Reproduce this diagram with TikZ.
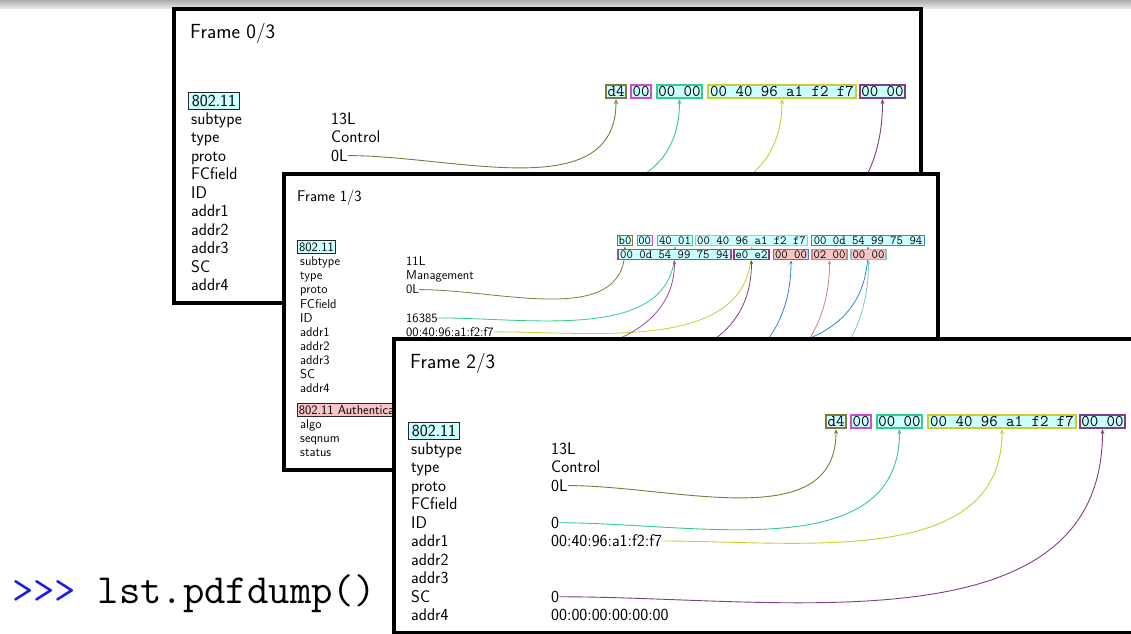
\documentclass[tikz,border=0pt]{standalone}
\usetikzlibrary{arrows.meta}
\definecolor{cOlive}{HTML}{7F7A3A}
\definecolor{cMag}{HTML}{D448D4}
\definecolor{cGreen}{HTML}{33CC88}
\definecolor{cYel}{HTML}{CCCC33}
\definecolor{cPur}{HTML}{7F3F80}
\definecolor{cPurB}{HTML}{9A4AA8}
\definecolor{cBlue}{HTML}{3A82D6}
\definecolor{cSalm}{HTML}{D88080}
\definecolor{cTeal}{HTML}{78CCCC}
\definecolor{cFillC}{HTML}{CCFFFF}
\definecolor{cFillS}{HTML}{F8C4C4}
\definecolor{cPrompt}{HTML}{1A1AF0}
\pgfdeclarelayer{fr0}
\pgfdeclarelayer{fr1a}
\pgfdeclarelayer{fr1b}
\pgfdeclarelayer{fr1c}
\pgfsetlayers{fr0,fr1a,fr1b,fr1c,main}
\tikzset{
  frm/.style={draw=black, line width=3.5pt, fill=white},
  ttlA/.style={anchor=base west, inner sep=0pt, font=\sffamily\fontsize{20.4}{23}\selectfont},
  ttlB/.style={anchor=base west, inner sep=0pt, font=\sffamily\fontsize{15.5}{18}\selectfont},
  txA/.style={anchor=base west, inner sep=0pt, font=\sffamily\fontsize{16.9}{19}\selectfont},
  txB/.style={anchor=base west, inner sep=0pt, font=\sffamily\fontsize{12.8}{14}\selectfont},
  layA/.style={draw=black!85, line width=0.8pt, fill=#1, inner sep=0pt, minimum height=16.6pt, text height=11.5pt, text depth=0pt, font=\sffamily\fontsize{16.9}{19}\selectfont},
  layB/.style={draw=black!85, line width=0.7pt, fill=#1, inner sep=0pt, minimum height=12.5pt, text height=8.8pt, text depth=0pt, font=\sffamily\fontsize{12.8}{14}\selectfont},
  hexA/.style={draw=#1, line width=1.8pt, fill=cFillC, inner sep=0pt, minimum height=13.5pt, text height=10pt, text depth=0pt, font=\ttfamily\fontsize{16.4}{18}\selectfont},
  hexB/.style={draw=#1, line width=1.4pt, fill=cFillC, inner sep=0pt, minimum height=10.2pt, text height=7.6pt, text depth=0pt, font=\ttfamily\fontsize{12.4}{14}\selectfont},
  conA/.style={draw=#1, line width=0.9pt, -{Stealth[length=5pt,width=4pt]}},
  conB/.style={draw=#1, line width=0.8pt, -{Stealth[length=4pt,width=3.2pt]}},
}
\begin{document}
\begin{tikzpicture}[x=1pt,y=-1pt]
\useasboundingbox (0,0) rectangle (1131,633);
\clip (0,0) rectangle (1131,633);

% ---------------- Frame 0 ----------------
\begin{pgfonlayer}{fr0}
\fill[white] (0,0) rectangle (1131,633);
\shade[top color=gray!65, bottom color=gray!20] (0,0) rectangle (1131,8);
\draw[frm] (174,9) rectangle (921,303);
\node[ttlA] (f0t) at (190,38.3) {Frame 0/3};
\node[layA=cFillC, minimum width=51pt] (f0p) at (214,101) {802.11};
\foreach \t [count=\i from 0] in {subtype,type,proto,FCfield,ID,addr1,addr2,addr3,SC,addr4}
  \node[txA] (f0l\i) at (191,{124.3+18.5*\i}) {\t};
\node[txA] (f0v0) at (331,124.3) {13L};
\node[txA] (f0v1) at (331,142.8) {Control};
\node[txA] (f0v2) at (331,161.3) {0L};
\coordinate (f0cid) at (339,192.8);
\coordinate (f0ca1) at (442,211.3);
\coordinate (f0csc) at (339,266.8);
\node[hexA=cOlive, minimum width=20.5pt] (f0h0) at (616,91.5) {d4};
\node[hexA=cMag, minimum width=20.5pt] (f0h1) at (641,91.5) {00};
\node[hexA=cGreen, minimum width=45.5pt] (f0h2) at (679.5,91.5) {00 00};
\node[hexA=cYel, minimum width=148.5pt] (f0h3) at (782,91.5) {00 40 96 a1 f2 f7};
\node[hexA=cPur, minimum width=45.5pt] (f0h4) at (882.5,91.5) {00 00};
\draw[conA=cOlive] (f0v2.east) to[out=0,in=-90] (f0h0.south);
\draw[conA=cGreen] (f0cid) to[out=0,in=-90] (f0h2.south);
\draw[conA=cYel] (f0ca1) to[out=0,in=-90] (f0h3.south);
\draw[conA=cPur] (f0csc) to[out=0,in=-90] (f0h4.south);
\node[anchor=base west, inner sep=0pt, font=\ttfamily\fontsize{41.5}{46}\selectfont] (prompt) at (12,603) {\textcolor{cPrompt}{>>>} lst.pdfdump()};
\end{pgfonlayer}

% ---------------- Frame 1 ----------------
\begin{pgfonlayer}{fr1a}
\draw[frm] (284,174) rectangle (938,470);
\node[ttlB] (f1t) at (297,201) {Frame 1/3};
\node[layB=cFillC, minimum width=38pt] (f1p) at (316.5,247) {802.11};
\foreach \t [count=\i from 0] in {subtype,type,proto,FCfield,ID,addr1,addr2,addr3,SC,addr4}
  \node[txB] (f1l\i) at (300,{265.7+14.1*\i}) {\t};
\node[layB=cFillS, anchor=west, inner xsep=1.5pt] (f1auth) at (297,409.7) {802.11 Authentication};
\node[txB] (f1algo) at (300,428.5) {algo};
\node[txB] (f1seq) at (300,442.6) {seqnum};
\node[txB] (f1stat) at (300,456.7) {status};
\node[txB] (f1v0) at (406,265.7) {11L};
\node[txB] (f1v1) at (406,279.8) {Management};
\node[txB] (f1v2) at (406,293.9) {0L};
\node[txB] (f1v4) at (406,322.1) {16385};
\node[txB] (f1v5) at (406,336.2) {00:40:96:a1:f2:f7};
\coordinate (f1ca2) at (492.5,346);
\coordinate (f1ca3) at (492.5,360.1);
\coordinate (f1csc) at (437,374.2);
\coordinate (f1calg) at (413,424.2);
\coordinate (f1cseq) at (413,438.3);
\coordinate (f1cst) at (413,452.4);
\end{pgfonlayer}
\begin{pgfonlayer}{fr1c}
\node[hexB=cOlive, minimum width=15pt] (f1r0) at (625,240.5) {b0};
\node[hexB=cMag, minimum width=15pt] (f1r1) at (644.7,240.5) {00};
\node[hexB=cGreen, minimum width=34.5pt] (f1r2) at (675,240.5) {40 01};
\node[hexB=cYel, minimum width=111.5pt] (f1r3) at (751.5,240.5) {00 40 96 a1 f2 f7};
\node[hexB=cBlue, minimum width=112.5pt] (f1r4) at (868,240.5) {00 0d 54 99 75 94};
\node[hexB=cPurB, minimum width=113pt] (f1s0) at (674.5,254.5) {00 0d 54 99 75 94};
\node[hexB=cPur, minimum width=35pt] (f1s1) at (751.5,254.5) {e0 e2};
\node[hexB=cBlue, fill=cFillS, minimum width=35pt] (f1s2) at (791,254.5) {00 00};
\node[hexB=cSalm, fill=cFillS, minimum width=35pt] (f1s3) at (829.5,254.5) {02 00};
\node[hexB=cTeal, fill=cFillS, minimum width=35pt] (f1s4) at (868.5,254.5) {00 00};
\end{pgfonlayer}
\begin{pgfonlayer}{fr1b}
\draw[conB=cOlive] (f1v2.east) to[out=0,in=-90] (f1r0.south);
\draw[conB=cGreen] (f1v4.east) to[out=0,in=-90] (f1r2.south);
\draw[conB=cYel] (f1v5.east) to[out=0,in=-90] (f1r3.south);
\draw[conB=cBlue] (f1ca2) to[out=0,in=-90] (f1r4.south);
\draw[conB=cPurB] (f1ca3) to[out=0,in=-90] (f1s0.south);
\draw[conB=cPur] (f1csc) to[out=0,in=-90] (f1s1.south);
\draw[conB=cBlue] (f1calg) to[out=0,in=-90] (f1s2.south);
\draw[conB=cSalm] (f1cseq) to[out=0,in=-90] (f1s3.south);
\draw[conB=cTeal] (f1cst) to[out=0,in=-90] (f1s4.south);
\end{pgfonlayer}

% ---------------- Frame 2 ----------------
\begin{scope}[shift={(220,330)}]
\draw[frm] (174,9) rectangle (921,303);
\node[ttlA] (f2t) at (190,38.3) {Frame 2/3};
\node[layA=cFillC, minimum width=51pt] (f2p) at (214,101) {802.11};
\foreach \t [count=\i from 0] in {subtype,type,proto,FCfield,ID,addr1,addr2,addr3,SC,addr4}
  \node[txA] (f2l\i) at (191,{124.3+18.5*\i}) {\t};
\node[txA] (f2v0) at (331,124.3) {13L};
\node[txA] (f2v1) at (331,142.8) {Control};
\node[txA] (f2v2) at (331,161.3) {0L};
\node[txA] (f2v4) at (331,198.3) {0};
\node[txA] (f2v5) at (331,216.8) {00:40:96:a1:f2:f7};
\node[txA] (f2v8) at (331,272.3) {0};
\node[txA] (f2v9) at (331,290.8) {00:00:00:00:00:00};
\node[hexA=cOlive, minimum width=20.5pt] (f2h0) at (616,91.5) {d4};
\node[hexA=cMag, minimum width=20.5pt] (f2h1) at (641,91.5) {00};
\node[hexA=cGreen, minimum width=45.5pt] (f2h2) at (679.5,91.5) {00 00};
\node[hexA=cYel, minimum width=148.5pt] (f2h3) at (782,91.5) {00 40 96 a1 f2 f7};
\node[hexA=cPur, minimum width=45.5pt] (f2h4) at (882.5,91.5) {00 00};
\draw[conA=cOlive] (f2v2.east) to[out=0,in=-90] (f2h0.south);
\draw[conA=cGreen] (f2v4.east) to[out=0,in=-90] (f2h2.south);
\draw[conA=cYel] (f2v5.east) to[out=0,in=-90] (f2h3.south);
\draw[conA=cPur] (f2v8.east) to[out=0,in=-90] (f2h4.south);
\end{scope}
\end{tikzpicture}
\end{document}
